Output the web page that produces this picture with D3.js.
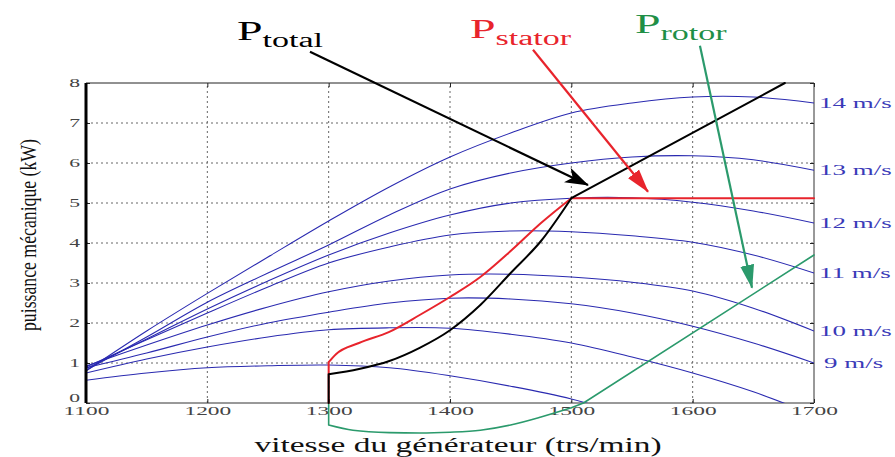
<!DOCTYPE html>
<html>
<head>
<meta charset="utf-8">
<script src="https://cdn.jsdelivr.net/npm/d3@7"></script>
<style>
  body { margin: 0; background: #fff; }
  svg text { font-family: "Liberation Serif", "DejaVu Serif", serif; }
</style>
</head>
<body>
<svg id="chart" width="895" height="457"></svg>
<script>
// vitesse du generateur (trs/min), common grid for the wind curves
const rpm = [1100, 1150, 1200, 1250, 1300, 1350, 1400, 1450, 1500, 1550, 1600, 1650, 1700];

// puissance mecanique (kW) for each wind speed
const kw_14 = [0.80, 1.80, 2.74, 3.65, 4.55, 5.40, 6.15, 6.75, 7.25, 7.50, 7.65, 7.65, 7.50];
const kw_13 = [0.82, 1.65, 2.52, 3.25, 3.95, 4.70, 5.35, 5.75, 6.00, 6.15, 6.18, 6.08, 5.82];
const kw_12 = [0.86, 1.60, 2.35, 3.05, 3.70, 4.25, 4.70, 5.00, 5.12, 5.13, 5.02, 4.80, 4.50];
const kw_11 = [0.90, 1.58, 2.25, 2.90, 3.50, 3.90, 4.20, 4.30, 4.28, 4.18, 4.02, 3.70, 3.25];
const kw_10 = [0.92, 1.45, 1.95, 2.40, 2.78, 3.05, 3.20, 3.22, 3.15, 3.02, 2.80, 2.37, 1.80];
const kw_9  = [0.88, 1.25, 1.65, 2.00, 2.27, 2.50, 2.62, 2.60, 2.48, 2.25, 1.92, 1.50, 1.00];
const kw_8  = [0.75, 1.10, 1.40, 1.65, 1.83, 1.88, 1.87, 1.72, 1.50, 1.15, 0.75, 0.28, -0.30];
const kw_7  = [0.57, 0.75, 0.88, 0.93, 0.95, 0.88, 0.68, 0.42, 0.10, -0.35, null, null, null];

const wind_speeds = [14, 13, 12, 11, 10, 9, 8, 7];
const wind_series = [kw_14, kw_13, kw_12, kw_11, kw_10, kw_9, kw_8, kw_7];
const labeled_speeds = [14, 13, 12, 11, 10, 9];

// P total
const total_rpm = [1300, 1300, 1325, 1350, 1375, 1400, 1425, 1450, 1475, 1500, 1676];
const total_kw  = [0, 0.72, 0.85, 1.05, 1.38, 1.82, 2.45, 3.25, 4.05, 5.12, 8.00];
// P stator
const stator_rpm = [1300, 1300, 1306, 1325, 1350, 1375, 1400, 1425, 1450, 1475, 1500, 1700];
const stator_kw  = [0, 1.02, 1.22, 1.50, 1.78, 2.20, 2.65, 3.15, 3.80, 4.50, 5.12, 5.12];
// P rotor
const rotor_rpm = [1300, 1300, 1320, 1350, 1375, 1400, 1425, 1450, 1475, 1500, 1510, 1700];
const rotor_kw  = [0, -0.55, -0.68, -0.74, -0.75, -0.73, -0.68, -0.55, -0.35, -0.12, 0, 3.70];
// speed where the curved part turns into a straight one
const total_knee = 1500, stator_knee = 1500, rotor_knee = 1500;

const x_ticks = [1100, 1200, 1300, 1400, 1500, 1600, 1700];
const y_ticks = [0, 1, 2, 3, 4, 5, 6, 7, 8];

// annotation arrows, in data units (rpm, kW)
const arrow_from = [[1284.6, 8.78], [1468.4, 8.83], [1606.0, 8.93]];
const arrow_to   = [[1513.7, 5.45], [1563.2, 5.28], [1648.9, 2.88]];
const arrow_colors = ["#000000", "#e8242c", "#2b9a6c"];

const svg = d3.select("#chart");
const x = d3.scaleLinear().domain([1100, 1700]).range([86, 814]);
const y = d3.scaleLinear().domain([0, 8]).range([403, 83]);

// the original picture is stretched horizontally
function stretch(sel, k) {
    sel.each(function () {
        const w = this.getComputedTextLength();
        d3.select(this).attr("textLength", w * k).attr("lengthAdjust", "spacingAndGlyphs");
    });
}

svg.append("defs").append("clipPath").attr("id", "plot")
    .append("rect")
    .attr("x", x(1100)).attr("y", y(8))
    .attr("width", x(1700) - x(1100)).attr("height", y(0) - y(8));

// grid
const grid = svg.append("g").attr("stroke", "#666").attr("stroke-dasharray", "2,3");
grid.selectAll(".gx").data(x_ticks.slice(1, -1)).join("line")
    .attr("x1", d => x(d)).attr("x2", d => x(d))
    .attr("y1", y(0)).attr("y2", y(8));
grid.selectAll(".gy").data(y_ticks.slice(1, -1)).join("line")
    .attr("x1", x(1100)).attr("x2", x(1700))
    .attr("y1", d => y(d)).attr("y2", d => y(d));

// axes
const xAxis = svg.append("g").attr("transform", `translate(0,${y(0)})`)
    .call(d3.axisBottom(x).tickValues(x_ticks).tickFormat(d3.format("d")).tickSizeInner(-4).tickSizeOuter(0).tickPadding(3));
const yAxis = svg.append("g").attr("transform", `translate(${x(1100)},0)`)
    .call(d3.axisLeft(y).tickValues(y_ticks).tickSizeInner(-4).tickSizeOuter(0).tickPadding(6));
svg.append("g").attr("transform", `translate(${x(1700)},0)`)
    .call(d3.axisRight(y).tickValues(y_ticks).tickFormat("").tickSizeInner(-4).tickSizeOuter(0));
svg.append("g").attr("transform", `translate(0,${y(8)})`)
    .call(d3.axisTop(x).tickValues(x_ticks).tickFormat("").tickSizeInner(-4).tickSizeOuter(0));
svg.selectAll(".domain").remove();
svg.selectAll(".tick line").attr("stroke", "#222");

xAxis.selectAll("text").attr("font-family", "Liberation Serif").attr("font-size", 13).attr("fill", "#444");
yAxis.selectAll("text").attr("font-family", "Liberation Serif").attr("font-size", 12).attr("fill", "#444")
    .attr("dy", d => d === 0 ? "-0.15em" : "0.32em");
stretch(xAxis.selectAll("text"), 1.8);
stretch(yAxis.selectAll("text"), 1.8);

// frame
svg.append("line").attr("x1", x(1100)).attr("x2", x(1700)).attr("y1", y(8)).attr("y2", y(8)).attr("stroke", "#222");
svg.append("line").attr("x1", x(1100)).attr("x2", x(1700)).attr("y1", y(0)).attr("y2", y(0)).attr("stroke", "#333");
svg.append("line").attr("x1", x(1700)).attr("x2", x(1700)).attr("y1", y(8)).attr("y2", y(0)).attr("stroke", "#333");

// wind curves
const windLine = d3.line()
    .defined(d => d[1] !== null)
    .x(d => x(d[0])).y(d => y(d[1]))
    .curve(d3.curveCatmullRom.alpha(0.5));

svg.append("g").attr("clip-path", "url(#plot)")
    .selectAll("path").data(wind_series).join("path")
    .attr("d", s => windLine(rpm.map((r, i) => [r, s[i]])))
    .attr("fill", "none")
    .attr("stroke", "#2a2ab0")
    .attr("stroke-width", 1.1);

// right side speed labels
const speedLabels = svg.append("g")
    .selectAll("text").data(labeled_speeds).join("text")
    .attr("x", d => d < 10 ? x(1700) + 10 : x(1700) + 5)
    .attr("y", d => y(wind_series[wind_speeds.indexOf(d)][rpm.length - 1]))
    .attr("dy", "0.35em")
    .attr("font-size", 15)
    .attr("fill", "#3a3ab8")
    .text(d => d + " m/s");
stretch(speedLabels, 1.8);

// power curves: vertical jump at 1300, a smooth part, then a straight part
const straightLine = d3.line().x(d => x(d[0])).y(d => y(d[1]));
const smoothLine = d3.line().x(d => x(d[0])).y(d => y(d[1])).curve(d3.curveMonotoneX);
function powerPath(r, p, knee) {
    const pts = r.map((v, i) => [v, p[i]]);
    const k = r.findIndex(v => v >= knee);
    return straightLine(pts.slice(0, 2)) + smoothLine(pts.slice(1, k + 1)) + straightLine(pts.slice(k));
}

svg.append("path")
    .attr("d", powerPath(rotor_rpm, rotor_kw, rotor_knee))
    .attr("fill", "none").attr("stroke", "#2b9a6c").attr("stroke-width", 1.6)
    .attr("stroke-linejoin", "round").attr("stroke-linecap", "round");
svg.append("path")
    .attr("d", powerPath(stator_rpm, stator_kw, stator_knee))
    .attr("fill", "none").attr("stroke", "#e8242c").attr("stroke-width", 2)
    .attr("stroke-linejoin", "round").attr("stroke-linecap", "round");
svg.append("path")
    .attr("d", powerPath(total_rpm, total_kw, total_knee))
    .attr("fill", "none").attr("stroke", "#000").attr("stroke-width", 2)
    .attr("stroke-linejoin", "round").attr("stroke-linecap", "round");

// left axis line drawn thick on top
svg.append("line").attr("x1", x(1100)).attr("x2", x(1100)).attr("y1", y(8)).attr("y2", y(0))
    .attr("stroke", "#000").attr("stroke-width", 3);

// arrows
const defs = svg.select("defs");
arrow_colors.forEach((c, i) => {
    defs.append("marker")
        .attr("id", "head" + i)
        .attr("markerUnits", "userSpaceOnUse")
        .attr("viewBox", "0 0 24 16")
        .attr("markerWidth", 24).attr("markerHeight", 16)
        .attr("refX", 23).attr("refY", 8)
        .attr("orient", "auto")
        .append("path")
        .attr("d", i === 0 ? "M0,0 L24,8 L0,16 L6,8 Z" : "M0,1 L24,8 L0,15 Z")
        .attr("fill", c);
});
svg.append("g").selectAll("line").data(arrow_from).join("line")
    .attr("x1", d => x(d[0])).attr("y1", d => y(d[1]))
    .attr("x2", (d, i) => x(arrow_to[i][0])).attr("y2", (d, i) => y(arrow_to[i][1]))
    .attr("stroke", (d, i) => arrow_colors[i])
    .attr("stroke-width", 2.2)
    .attr("marker-end", (d, i) => `url(#head${i})`);

// P labels
function pLabel(px, py, sub, color) {
    const t = svg.append("text").attr("x", px).attr("y", py).attr("fill", color);
    t.append("tspan").attr("font-size", 27).text("P");
    t.append("tspan").attr("font-size", 20).attr("dy", 7).text(sub);
    t.selectAll("tspan").call(stretch, 1.7);
}
pLabel(237, 40, "total", "#000");
pLabel(470, 38, "stator", "#e8242c");
pLabel(635, 33, "rotor", "#1f8f46");

// axis titles
svg.append("text")
    .attr("x", 458).attr("y", 452)
    .attr("text-anchor", "middle")
    .attr("font-size", 21)
    .attr("fill", "#111")
    .attr("textLength", 407).attr("lengthAdjust", "spacingAndGlyphs")
    .text("vitesse du générateur (trs/min)");

svg.append("text")
    .attr("transform", "translate(36,235) rotate(-90)")
    .attr("text-anchor", "middle")
    .attr("font-size", 24)
    .attr("fill", "#111")
    .attr("textLength", 192).attr("lengthAdjust", "spacingAndGlyphs")
    .text("puissance mécanique (kW)");
</script>
</body>
</html>
